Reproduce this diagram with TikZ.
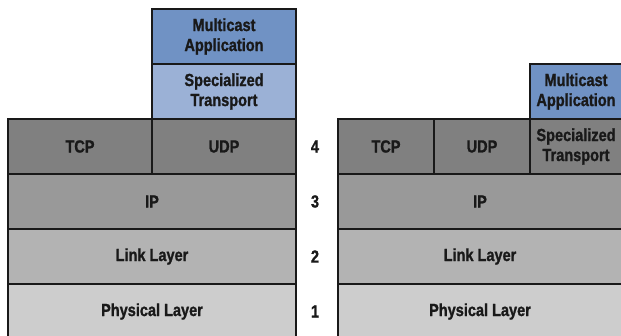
\documentclass[tikz,border=0pt]{standalone}
\usepackage{fontspec}
\setmainfont{Liberation Sans}[FakeStretch=0.83, BoldFeatures={FakeBold=1.2}]
\definecolor{mcblue}{RGB}{112,146,196}
\definecolor{spblue}{RGB}{155,177,214}
\definecolor{tgray}{RGB}{128,128,128}
\definecolor{igray}{RGB}{153,153,153}
\definecolor{lgray}{RGB}{179,179,179}
\definecolor{pgray}{RGB}{205,205,205}
\begin{document}
\begin{tikzpicture}[x=1pt,y=-1pt,
  layer/.style={draw=black!90, line width=1.7pt, rectangle, inner sep=0pt, align=center,
    font=\fontsize{17.5}{20}\selectfont\bfseries, text=black!90},
  num/.style={font=\fontsize{17.5}{20}\selectfont\bfseries, text=black!90}]
\useasboundingbox (0,0) rectangle (621,335);
\begin{scope}
\clip (0,0) rectangle (621,335);
% left stack
\node[layer, fill=pgray, minimum width=288pt, minimum height=55pt] (lphys) at (152,311.5) {Physical Layer};
\node[layer, fill=lgray, minimum width=288pt, minimum height=55pt] (llink) at (152,256.5) {Link Layer};
\node[layer, fill=igray, minimum width=288pt, minimum height=55pt] (lip) at (152,201.5) {IP};
\node[layer, fill=tgray, minimum width=144pt, minimum height=55pt] (ltcp) at (80,146.5) {TCP};
\node[layer, fill=tgray, minimum width=144pt, minimum height=55pt] (ludp) at (224,146.5) {UDP};
\node[layer, fill=spblue, minimum width=144pt, minimum height=55pt] (lspec) at (224,91.5) {Specialized\\Transport};
\node[layer, fill=mcblue, minimum width=144pt, minimum height=55pt] (lmc) at (224,36.5) {Multicast\\Application};
% numbers
\node[num] (n4) at (315,146.5) {4};
\node[num] (n3) at (315,201.5) {3};
\node[num] (n2) at (315,256.5) {2};
\node[num] (n1) at (315,311.5) {1};
% right stack
\node[layer, fill=pgray, minimum width=284pt, minimum height=55pt] (rphys) at (480,311.5) {Physical Layer};
\node[layer, fill=lgray, minimum width=284pt, minimum height=55pt] (rlink) at (480,256.5) {Link Layer};
\node[layer, fill=igray, minimum width=284pt, minimum height=55pt] (rip) at (480,201.5) {IP};
\node[layer, fill=tgray, minimum width=96pt, minimum height=55pt] (rtcp) at (386,146.5) {TCP};
\node[layer, fill=tgray, minimum width=96pt, minimum height=55pt] (rudp) at (482,146.5) {UDP};
\node[layer, fill=tgray, minimum width=92pt, minimum height=55pt] (rspec) at (576,146.5) {Specialized\\Transport};
\node[layer, fill=mcblue, minimum width=92pt, minimum height=55pt] (rmc) at (576,91.5) {Multicast\\Application};
\end{scope}
\end{tikzpicture}
\end{document}
